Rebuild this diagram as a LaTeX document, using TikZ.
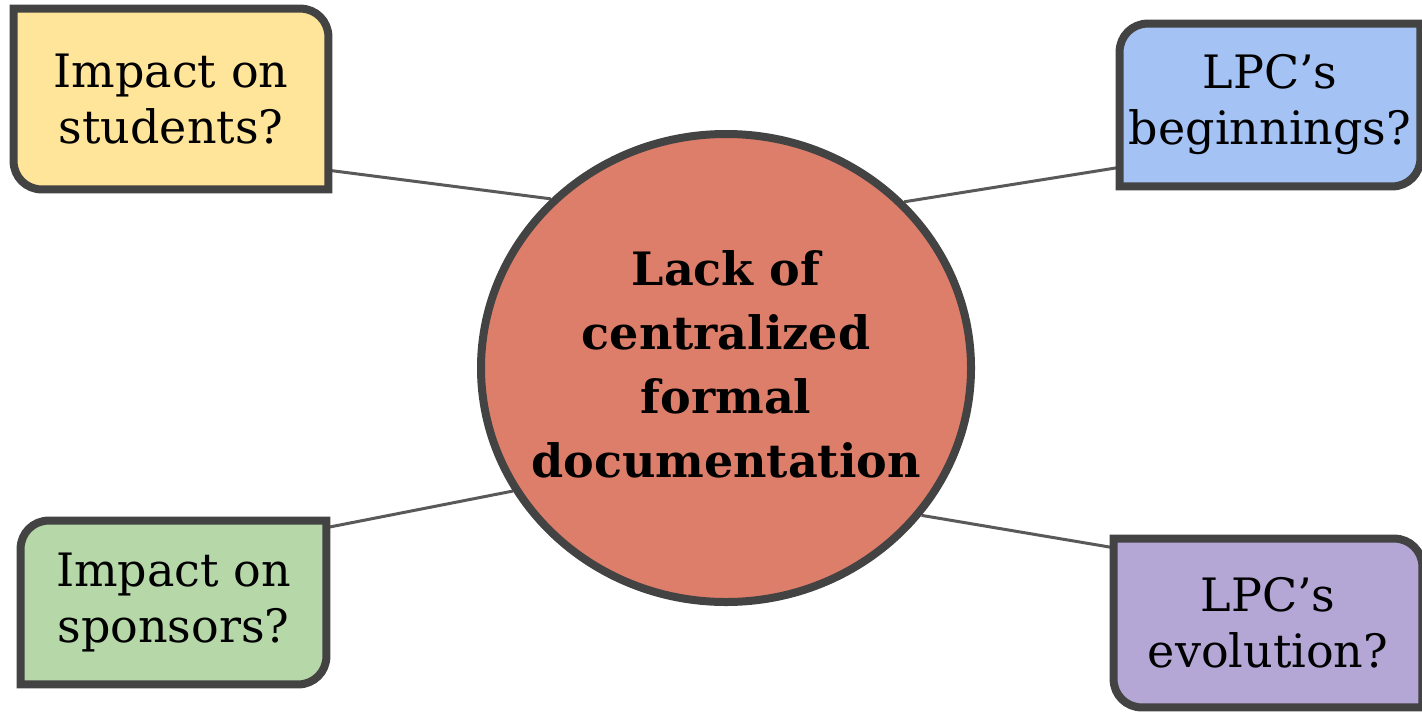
\documentclass[tikz,border=0pt]{standalone}
\usepackage{fontspec}
\setmainfont{DejaVu Serif}
\usetikzlibrary{shapes.geometric,calc,backgrounds}

\definecolor{yellowq}{HTML}{FFE599}
\definecolor{blueq}{HTML}{A4C2F4}
\definecolor{greenq}{HTML}{B6D7A8}
\definecolor{purpleq}{HTML}{B4A7D6}
\definecolor{redq}{HTML}{DD7E6B}
\definecolor{edgeq}{HTML}{434343}
\definecolor{wireq}{HTML}{595959}

\begin{document}
\begin{tikzpicture}[x=0.5pt, y=-0.5pt,
    qtext/.style={inner sep=0pt, align=center, font=\fontsize{23}{28}\selectfont},
    qline/.style={draw=edgeq, line width=4pt},
    wire/.style={draw=wireq, line width=1.5pt},
    hub/.style={ellipse, draw=edgeq, line width=4pt, fill=redq, inner sep=0pt,
        minimum width=245pt, minimum height=234pt},
    hubtext/.style={inner sep=0pt, align=center, font=\fontsize{23}{32}\selectfont\bfseries}]

    \useasboundingbox (0,0) rectangle (1422,712);

    % the question boxes
    \node[qtext, minimum width=157pt, minimum height=90pt] (stud) at (171,99) {Impact on\\students?};
    \node[qtext, minimum width=150pt, minimum height=81pt] (begin) at (1270,105) {LPC’s\\beginnings?};
    \node[qtext, minimum width=152.5pt, minimum height=81.5pt] (spons) at (173.5,602.5) {Impact on\\sponsors?};
    \node[qtext, minimum width=154pt, minimum height=84pt] (evol) at (1268,623) {LPC’s\\evolution?};

    % the problem in the middle
    \node[hub] (core) at (726,368) {};
    \node[hubtext] (coretext) at (726,364) {Lack of\\centralized\\formal\\documentation};

    \begin{scope}[on background layer]
    \draw[wire] ($(stud.south east)!0.106!(stud.north east)$) -- (core.136.7);
    \draw[wire] ($(begin.south west)!0.117!(begin.north west)$) -- (core.43.2);
    \draw[wire] ($(spons.north east)!0.043!(spons.south east)$) -- (core.210.8);
    \draw[wire] ($(evol.north west)!0.054!(evol.south west)$) -- (core.323.2);

    \draw[qline, fill=yellowq] (stud.north west) -- ([xshift=-14pt]stud.north east)
        arc[start angle=90, end angle=0, radius=14pt] -- (stud.south east)
        -- ([xshift=14pt]stud.south west) arc[start angle=270, end angle=180, radius=14pt] -- cycle;
    \draw[qline, fill=blueq] ([yshift=-14pt]begin.north west)
        arc[start angle=180, end angle=90, radius=14pt] -- (begin.north east)
        -- ([yshift=14pt]begin.south east) arc[start angle=0, end angle=-90, radius=14pt]
        -- (begin.south west) -- cycle;
    \draw[qline, fill=greenq] ([yshift=-14pt]spons.north west)
        arc[start angle=180, end angle=90, radius=14pt] -- (spons.north east)
        -- ([yshift=14pt]spons.south east) arc[start angle=0, end angle=-90, radius=14pt]
        -- (spons.south west) -- cycle;
    \draw[qline, fill=purpleq] (evol.north west) -- ([xshift=-14pt]evol.north east)
        arc[start angle=90, end angle=0, radius=14pt] -- (evol.south east)
        -- ([xshift=14pt]evol.south west) arc[start angle=270, end angle=180, radius=14pt] -- cycle;
    \end{scope}

\end{tikzpicture}
\end{document}
